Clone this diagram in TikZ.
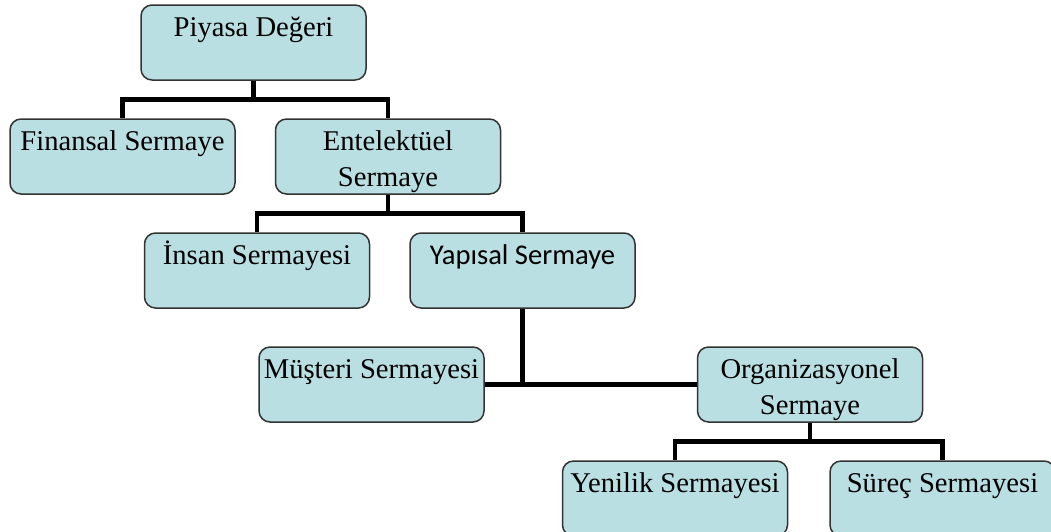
\documentclass[tikz,border=0pt]{standalone}
\usepackage{fontspec}
\setmainfont{Liberation Serif}
\newfontfamily\calibrifont{Carlito}
\usepackage{xcolor}
\usetikzlibrary{positioning}
\definecolor{boxfill}{RGB}{185,223,227}

\begin{document}
\begin{tikzpicture}[x=1pt, y=1pt,
    node distance=37.5pt and 39pt,
    box/.style={draw=black!80, line width=1.5pt, fill=boxfill, rounded corners=11pt,
        text width=219pt, inner xsep=3pt, inner ysep=0pt, align=flush center,
        text height=31pt, text depth=44pt, font=\fontsize{28.6}{36}\selectfont},
    link/.style={draw, line width=4.8pt}
]
    \useasboundingbox (0,0) rectangle (1051,-531);

    % Levels
    \node[box] (piyasa) at (253.5,-42.5) {Piyasa Değeri};
    \node[box, below=of piyasa, xshift=-131pt] (finansal) {Finansal Sermaye};
    \node[box, right=of finansal] (entelektuel) {Entelektüel\\Sermaye};
    \node[box, below=of entelektuel, xshift=-131pt] (insan) {İnsan Sermayesi};
    \node[box, right=of insan] (yapisal) {\calibrifont Yapısal Sermaye};
    \node[box, below=of yapisal, xshift=-151pt] (musteri) {Müşteri Sermayesi};
    \node[box, right=212pt of musteri] (organizasyonel) {Organizasyonel\\Sermaye};
    \node[box, below=of organizasyonel, xshift=-135pt] (yenilik) {Yenilik Sermayesi};
    \node[box, right=41pt of yenilik] (surec) {Süreç Sermayesi};

    % Links
    \draw[link] (piyasa.south) -- ++(0,-18.75) -| (finansal.north);
    \draw[link] (piyasa.south) -- ++(0,-18.75) -| (entelektuel.north);
    \draw[link] (entelektuel.south) -- ++(0,-18.75) -| (insan.north);
    \draw[link] (entelektuel.south) -- ++(0,-18.75) -| (yapisal.north);
    \draw[link] (yapisal.south) -- (yapisal.south |- musteri.east);
    \draw[link] (musteri.east) -- (organizasyonel.west);
    \draw[link] (organizasyonel.south) -- ++(0,-18.75) -| (yenilik.north);
    \draw[link] (organizasyonel.south) -- ++(0,-18.75) -| (surec.north);
\end{tikzpicture}
\end{document}
